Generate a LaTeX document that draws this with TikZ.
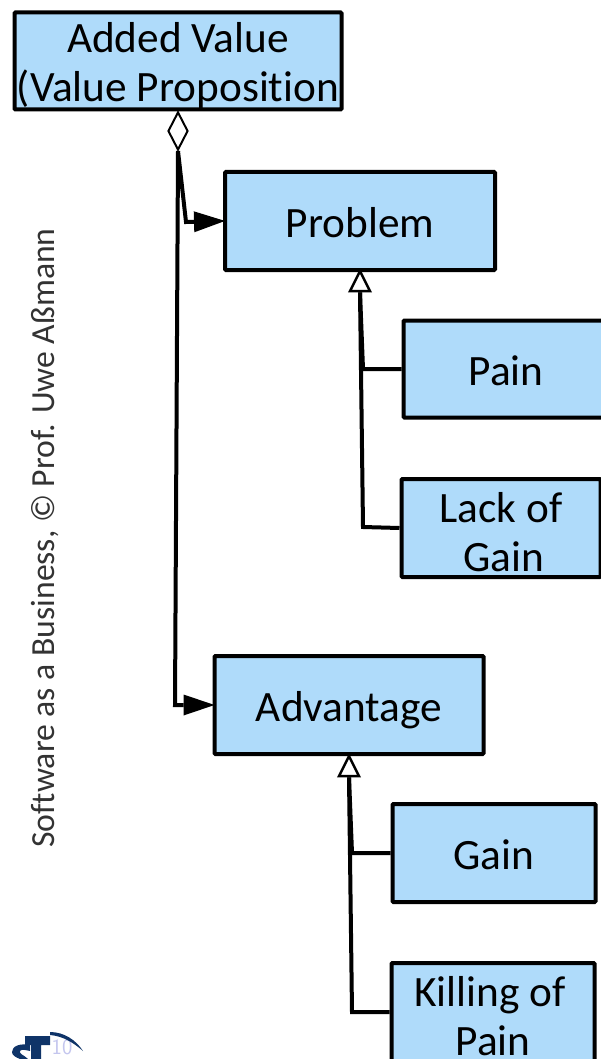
\documentclass[tikz,border=0pt]{standalone}
\usepackage{fontspec}
\setmainfont[Ligatures=CommonOff]{Carlito}
\usetikzlibrary{arrows.meta,shapes.geometric}
\definecolor{boxblue}{HTML}{AFDBFA}
\definecolor{logoblue}{HTML}{0F3468}
\definecolor{logopale}{HTML}{C4C6EE}
\newcommand{\firstline}{\rule{0pt}{39pt}}
\tikzset{
  box/.style={draw,line width=4pt,fill=boxblue,align=center,inner sep=0pt,
    font=\fontsize{43.3}{49}\selectfont,rounded corners=1pt},
  oneline/.style={box,execute at begin node={\rule{0pt}{46pt}},execute at end node={\rule[-14pt]{0pt}{14pt}}},
  link/.style={line width=4pt,line join=miter},
  hasa/.style={link,shorten >=-2pt,-{Triangle[length=31pt,width=21pt,line width=0pt]}},
  hasatip/.style={draw,line width=2pt,fill=white,diamond,aspect=0.52,inner sep=0pt,minimum width=20pt,minimum height=38pt},
  isatip/.style={draw,line width=2.5pt,fill=white,isosceles triangle,shape border rotate=90,
    isosceles triangle apex angle=53,isosceles triangle stretches,inner sep=0pt,minimum width=20pt,minimum height=20pt}
}
\begin{document}
\begin{tikzpicture}[x=1pt,y=-1pt]
\useasboundingbox (0,0) rectangle (601,1059);
\node[box,minimum width=327pt,minimum height=97pt] (added) at (178,61) {\firstline Added Value\\(Value Proposition};
\node[oneline,minimum width=270pt,minimum height=98pt] (problem) at (360,221) {Problem};
\node[oneline,minimum width=205pt,minimum height=97pt] (pain) at (506,369) {Pain};
\node[box,minimum width=199pt,minimum height=98pt] (lack) at (501,528) {\firstline Lack of\\\hspace{6pt}Gain};
\node[oneline,minimum width=269pt,minimum height=98pt] (advantage) at (349,705) {Advantage};
\node[oneline,minimum width=203pt,minimum height=98pt] (gain) at (494,853) {Gain};
\node[box,minimum width=203pt,minimum height=98pt] (killing) at (493,1012) {\firstline Killing of\hspace*{6pt}\\Pain};
\node[hasatip] (whole) at (178,131) {};
\node[isatip] (problemtip) at (360,285) {};
\node[isatip] (advantagetip) at (349,770) {};
\coordinate (problembend) at (186,222);
\coordinate (advantagebend) at (175,705);
\coordinate (painbend) at (363,369);
\coordinate (lackbend) at (363,527);
\coordinate (gainbend) at (352,853);
\coordinate (killingbend) at (352,1012);
\draw[hasa] (whole.south) -- (problembend) -- (problem.west);
\draw[hasa] (whole.south) -- (advantagebend) -- (advantage.west);
\draw[link] (problemtip.south) -- (painbend) -- (pain.west);
\draw[link] (problemtip.south) -- (lackbend) -- (lack.west);
\draw[link] (advantagetip.south) -- (gainbend) -- (gain.west);
\draw[link] (advantagetip.south) -- (killingbend) -- (killing.west);
\node[rotate=90,font=\fontsize{33.7}{40}\selectfont,text=black!80,inner sep=0pt] (footer) at (45,538) {Software as a Business, © Prof. Uwe Aßmann};
% logo
\node[font=\fontsize{22}{22}\selectfont\sffamily,text=logopale,inner sep=0pt] (logotext) at (62,1047) {10};
\fill[logoblue] (25,1036) -- (50,1036) -- (50,1045) -- (41,1045) -- (41,1059) -- (31,1059) -- (31,1045) -- (25,1045) -- cycle;
\fill[logoblue] (50,1032) .. controls (64,1032) and (76,1040) .. (83,1051) .. controls (74,1043) and (63,1036) .. (50,1035) -- cycle;
\fill[logoblue] (30,1045) .. controls (20,1043) and (12,1046) .. (12,1052) .. controls (12,1055) and (15,1057) .. (20,1059) -- (28,1059) .. controls (24,1055) and (19,1054) .. (20,1051) .. controls (21,1049) and (26,1050) .. (30,1051) -- cycle;
\end{tikzpicture}
\end{document}
